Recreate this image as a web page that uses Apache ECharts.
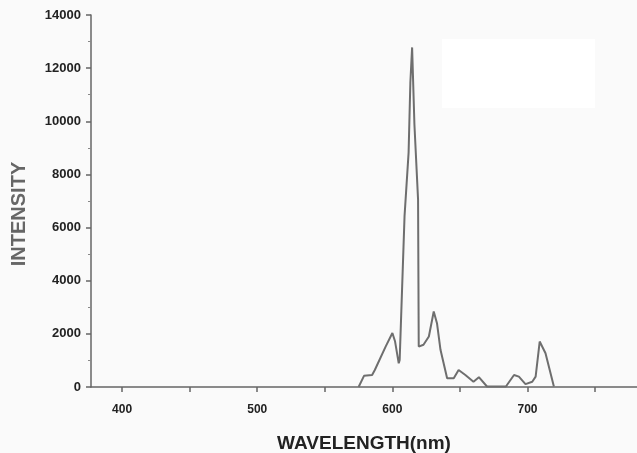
<!DOCTYPE html>
<html>
<head>
<meta charset="utf-8">
<script src="https://cdn.jsdelivr.net/npm/echarts@6/dist/echarts.min.js"></script>
<style>
  html, body { margin: 0; padding: 0; background: #fafafa; }
  #chart { width: 637px; height: 453px; }
</style>
</head>
<body>
<div id="chart"></div>
<script>
// spectrum
var Wavelengths = [575, 579, 585, 587, 595, 600, 602, 604.7, 605.4, 609, 612, 613.3, 614.6, 615.8, 616.3, 619, 619.5, 623, 627, 630.6, 633, 635.6, 640.5, 645.4, 649, 654, 660, 664, 670, 684, 690, 693.6, 698.5, 703.5, 706, 709, 713.3, 719.5]
var Intensities = [0, 420, 450, 640, 1520, 2030, 1710, 890, 1020, 6430, 8820, 11460, 12780, 12780, 9890, 7060, 1520, 1590, 1900, 2840, 2400, 1400, 330, 330, 640, 450, 200, 370, 20, 20, 450, 390, 110, 200, 390, 1710, 1270, 20]
var XLabels = [400, 500, 600, 700]
var XTicks = [400, 450, 500, 550, 600, 650, 700, 750]

var SpectrumData = Wavelengths.map(function(w, i) { return [w, Intensities[i]] })

var chart = echarts.init(document.getElementById('chart'))
chart.setOption({
  backgroundColor: '#fafafa',
  animation: false,
  grid: { left: 91, right: 0, top: 15, bottom: 66, containLabel: false, outerBoundsMode: 'none' },
  graphic: [{
    type: 'rect',
    shape: { x: 442, y: 39, width: 153, height: 69 },
    style: { fill: '#ffffff' },
    z: 0
  }],
  xAxis: {
    type: 'value',
    min: 377,
    max: 781,
    name: 'WAVELENGTH(nm)',
    nameLocation: 'middle',
    nameGap: 47,
    nameTextStyle: { fontFamily: 'Liberation Sans', fontWeight: 'bold', fontSize: 19, color: '#222' },
    axisLine: { lineStyle: { color: '#666', width: 1.5 } },
    axisTick: { show: true, length: 5, customValues: XTicks, lineStyle: { color: '#666', width: 1.5 } },
    axisLabel: {
      customValues: XLabels,
      margin: 17,
      fontFamily: 'Liberation Sans',
      fontWeight: 'bold',
      fontSize: 12,
      color: '#222'
    },
    splitLine: { show: false }
  },
  yAxis: {
    type: 'value',
    min: 0,
    max: 14000,
    interval: 2000,
    name: 'INTENSITY',
    nameLocation: 'middle',
    nameGap: 62,
    nameTextStyle: { fontFamily: 'Liberation Sans', fontWeight: 'bold', fontSize: 20, color: '#666', padding: [0, 26, 0, 0] },
    axisLine: { show: true, lineStyle: { color: '#666', width: 1.5 } },
    axisTick: { show: true, length: 5, lineStyle: { color: '#666', width: 1.5 } },
    minorTick: { show: true, splitNumber: 2, length: 3, lineStyle: { color: '#888' } },
    axisLabel: {
      margin: 10,
      fontFamily: 'Liberation Sans',
      fontWeight: 'bold',
      fontSize: 13,
      color: '#222',
      formatter: function(v) { return String(v) }
    },
    splitLine: { show: false }
  },
  series: [{
    type: 'line',
    data: SpectrumData,
    symbol: 'none',
    lineStyle: { color: '#6e6e6e', width: 2 },
    z: 3
  }]
})
</script>
</body>
</html>
